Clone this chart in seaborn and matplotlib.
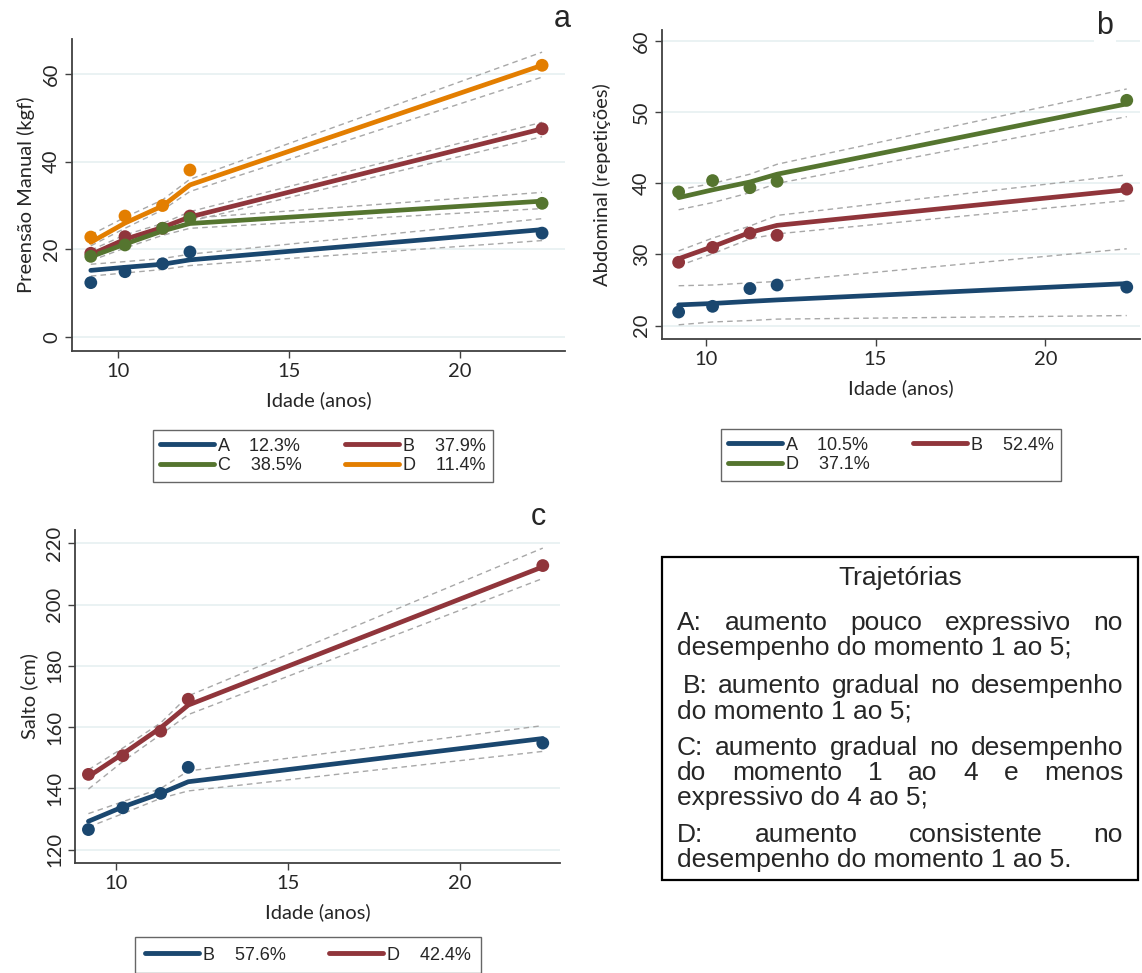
import numpy as np
import pandas as pd
import seaborn as sns
import matplotlib.pyplot as plt
from matplotlib.lines import Line2D
from matplotlib.patches import Rectangle

# === Dados ===
idades = [9.2, 10.2, 11.3, 12.1, 22.4]

# Painel a - Preensão manual (kgf)
a_grupos = ["A", "B", "C", "D"]
a_pct = ["12.3%", "37.9%", "38.5%", "11.4%"]
a_obs = {"A": [12.4, 14.9, 16.7, 19.4, 23.7],
         "B": [19.1, 22.9, 24.8, 27.6, 47.5],
         "C": [18.4, 21.0, 24.8, 27.1, 30.5],
         "D": [22.8, 27.6, 30.0, 38.1, 62.0]}
a_fit = {"A": [15.2, 15.9, 16.6, 17.6, 24.5],
         "B": [18.8, 22.3, 25.0, 27.4, 47.5],
         "C": [18.3, 21.2, 24.2, 25.9, 31.0],
         "D": [21.6, 26.0, 29.9, 34.7, 62.0]}
a_sup = {"A": [16.6, 17.2, 17.9, 18.9, 27.0],
         "B": [19.8, 23.3, 25.9, 28.6, 49.0],
         "C": [19.2, 22.2, 25.1, 27.1, 33.0],
         "D": [23.3, 27.3, 31.3, 36.0, 65.0]}
a_inf = {"A": [13.9, 14.6, 15.4, 16.3, 22.0],
         "B": [17.8, 21.5, 24.1, 26.4, 45.7],
         "C": [17.4, 20.3, 23.2, 24.8, 29.3],
         "D": [20.8, 24.8, 29.0, 33.2, 59.3]}

# Painel b - Abdominal (repetições)
b_grupos = ["A", "B", "D"]
b_pct = ["10.5%", "52.4%", "37.1%"]
b_obs = {"A": [21.9, 22.7, 25.2, 25.7, 25.4],
         "B": [28.9, 31.0, 33.0, 32.7, 39.2],
         "D": [38.8, 40.4, 39.4, 40.3, 51.7]}
b_fit = {"A": [22.9, 23.1, 23.4, 23.6, 25.9],
         "B": [29.4, 31.1, 33.1, 34.1, 39.1],
         "D": [38.0, 39.1, 40.2, 41.3, 51.2]}
b_sup = {"A": [25.6, 25.7, 26.0, 26.2, 30.8],
         "B": [30.5, 32.3, 34.0, 35.5, 41.2],
         "D": [39.1, 40.0, 41.3, 42.7, 53.3]}
b_inf = {"A": [20.1, 20.5, 20.7, 20.9, 21.4],
         "B": [28.4, 30.1, 32.2, 32.9, 37.6],
         "D": [36.3, 37.3, 38.7, 40.0, 49.4]}

# Painel c - Salto (cm)
c_grupos = ["B", "D"]
c_pct = ["57.6%", "42.4%"]
c_obs = {"B": [126.6, 133.7, 138.4, 146.9, 154.8],
         "D": [144.6, 150.7, 158.7, 169.1, 212.7]}
c_fit = {"B": [129.3, 134.0, 138.4, 142.2, 156.3],
         "D": [143.9, 151.3, 159.8, 167.2, 212.3]}
c_sup = {"B": [131.8, 135.7, 140.0, 145.7, 160.5],
         "D": [146.1, 153.2, 161.4, 170.2, 218.4]}
c_inf = {"B": [127.4, 131.8, 136.8, 139.2, 152.1],
         "D": [139.8, 148.8, 157.6, 164.1, 208.5]}

cores = ["#1a476f", "#90353b", "#55752f", "#e37e00"]

texto_titulo = "Trajetórias"
texto_linhas = [
    ("A: aumento pouco expressivo no", True),
    ("desempenho do momento 1 ao 5;", False),
    (" B: aumento gradual no desempenho", True),
    ("do momento 1 ao 5;", False),
    ("C: aumento gradual no desempenho", True),
    ("do momento 1 ao 4 e menos", True),
    ("expressivo do 4 ao 5;", False),
    ("D: aumento consistente no", True),
    ("desempenho do momento 1 ao 5.", False),
]

W, H = 1142, 973
sns.set_style("white")
plt.rcParams["font.family"] = ["Lato", "DejaVu Sans"]
fig = plt.figure(figsize=(W / 100, H / 100), dpi=100)


def painel(rect, grupos, obs, fit, sup, inf, xlim, ylim, yticks, ylabel, pad=6):
    ax = fig.add_axes(rect)
    pal = dict(zip(grupos, cores[:len(grupos)]))
    linhas = []
    for g in grupos:
        linhas.append(pd.DataFrame({"idade": idades, "grupo": g, "obs": obs[g],
                                    "fit": fit[g], "sup": sup[g], "inf": inf[g]}))
    df = pd.concat(linhas, ignore_index=True)
    for col in ["sup", "inf"]:
        sns.lineplot(data=df, x="idade", y=col, units="grupo", estimator=None,
                     color="#a8a8a8", linestyle=(0, (4, 3)), linewidth=1.0, ax=ax)
    sns.lineplot(data=df, x="idade", y="fit", hue="grupo", palette=pal,
                 linewidth=3.4, legend=False, ax=ax)
    sns.scatterplot(data=df, x="idade", y="obs", hue="grupo", palette=pal,
                    s=85, edgecolor="none", legend=False, ax=ax, zorder=3)
    ax.set_xlim(*xlim)
    ax.set_ylim(*ylim)
    ax.set_xticks([10, 15, 20])
    ax.set_yticks(yticks)
    ax.yaxis.grid(True, color="#e6f0f1", linewidth=1.2)
    ax.set_axisbelow(True)
    sns.despine(ax=ax)
    for s in ["left", "bottom"]:
        ax.spines[s].set_color("#404040")
        ax.spines[s].set_linewidth(1.3)
    ax.tick_params(axis="both", direction="out", length=5, width=1,
                   color="#404040", labelsize=14.5, left=True, bottom=True)
    for lab in ax.get_yticklabels():
        lab.set_rotation(90)
        lab.set_va("center")
    ax.set_xlabel("Idade (anos)", fontsize=14.5, labelpad=8)
    ax.set_ylabel(ylabel, fontsize=14.5, labelpad=pad)
    return ax


def legenda(grupos, pct, ordem, centro, borda=0.4):
    hs, ls = [], []
    for i in ordem:
        hs.append(Line2D([0], [0], color=cores[i], linewidth=3.5))
        ls.append(f"{grupos[i]}    {pct[i]}")
    fig.legend(hs, ls, loc="center", bbox_to_anchor=centro, ncol=2, frameon=True,
               fancybox=False, edgecolor="#404040", handlelength=3.0,
               handletextpad=0.2, columnspacing=2.4, labelspacing=0.15,
               borderpad=borda, prop={"family": "Liberation Sans", "size": 13})


ax_a = painel([72 / W, 1 - 351 / H, 493 / W, 312 / H], a_grupos, a_obs, a_fit,
              a_sup, a_inf, (8.65, 23.07), (-3.2, 68.0), [0, 20, 40, 60],
              "Preensão Manual (kgf)")
ax_b = painel([662 / W, 1 - 339 / H, 478 / W, 309 / H], b_grupos, b_obs, b_fit,
              b_sup, b_inf, (8.71, 22.79), (18.1, 61.6), [20, 30, 40, 50, 60],
              "Abdominal (repetições)", pad=16)
ax_c = painel([75 / W, 1 - 863 / H, 485 / W, 333 / H], c_grupos, c_obs, c_fit,
              c_sup, c_inf, (8.81, 22.9), (115.7, 224.3),
              [120, 140, 160, 180, 200, 220], "Salto (cm)")

legenda(a_grupos, a_pct, [0, 2, 1, 3], (323 / W, 1 - 456 / H))
legenda(b_grupos, b_pct, [0, 2, 1], (891 / W, 1 - 455 / H))
legenda(c_grupos, c_pct, [0, 1], (308 / W, 1 - 955 / H), borda=0.55)

# letras dos painéis
for letra, (px, py) in zip(["a", "b", "c"], [(562, 19), (1105, 26), (538, 517)]):
    fig.text(px / W, 1 - py / H, letra, fontsize=22, family="Liberation Sans",
             ha="center", va="center",
             bbox=dict(facecolor="white", edgecolor="none", pad=2))

# caixa de texto com as trajetórias
fig.add_artist(Rectangle((662 / W, 1 - 880 / H), 476 / W, 323 / H,
                         transform=fig.transFigure, fill=False,
                         edgecolor="black", linewidth=1.6))
fs_txt = 19
fig.text(900 / W, 1 - 578 / H, texto_titulo, fontsize=fs_txt,
         family="Liberation Sans", ha="center", va="center")

y_linhas = [623, 648, 686, 711, 748, 773, 798, 835, 860]
x0, x1 = 677, 1123
renderer = fig.canvas.get_renderer()
for (linha, just), yl in zip(texto_linhas, y_linhas):
    yf = 1 - yl / H
    if not just:
        fig.text(x0 / W, yf, linha, fontsize=fs_txt, family="Liberation Sans",
                 ha="left", va="center")
        continue
    palavras = linha.split()
    lead = 6 if linha.startswith(" ") else 0
    ts = [fig.text(0, yf, p, fontsize=fs_txt, family="Liberation Sans",
                   ha="left", va="center") for p in palavras]
    larg = [t.get_window_extent(renderer).width for t in ts]
    gap = (x1 - x0 - lead - sum(larg)) / (len(palavras) - 1)
    x = x0 + lead
    for t, w in zip(ts, larg):
        t.set_x(x / W)
        x += w + gap

fig.savefig("out.png", dpi=100)
